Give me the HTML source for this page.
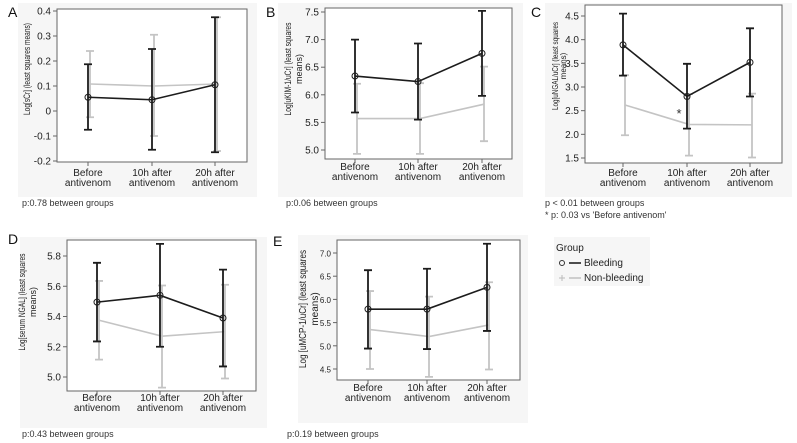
<!DOCTYPE html>
<html><head><meta charset="utf-8"><style>
body{margin:0;background:#fff;width:797px;height:443px;overflow:hidden;font-family:"Liberation Sans",sans-serif}
svg{display:block}
</style></head><body>
<svg id="s" width="797" height="443" xmlns="http://www.w3.org/2000/svg"></svg>
<script>
const categories = [["Before","antivenom"],["10h after","antivenom"],["20h after","antivenom"]];
// Panel A
const aBleed=[0.055,0.045,0.105], aBleedLo=[-0.075,-0.155,-0.165], aBleedHi=[0.187,0.248,0.375];
const aNon=[0.108,0.10,0.108], aNonLo=[-0.025,-0.1,-0.16], aNonHi=[0.24,0.305,0.375];
const aTicks=[0.4,0.3,0.2,0.1,0,-0.1,-0.2], aTickLabels=["0.4","0.3","0.2","0.1","0","-0.1","-0.2"];
// Panel B
const bBleed=[6.34,6.24,6.75], bBleedLo=[5.68,5.55,5.98], bBleedHi=[7.0,6.93,7.52];
const bNon=[5.57,5.57,5.83], bNonLo=[4.93,4.93,5.16], bNonHi=[6.2,6.21,6.51];
const bTicks=[5.0,5.5,6.0,6.5,7.0,7.5], bTickLabels=["5.0","5.5","6.0","6.5","7.0","7.5"];
// Panel C
const cBleed=[3.89,2.8,3.52], cBleedLo=[3.24,2.12,2.8], cBleedHi=[4.55,3.49,4.24];
const cNon=[2.62,2.21,2.2], cNonLo=[1.98,1.55,1.51], cNonHi=[3.25,2.85,2.86];
const cTicks=[1.5,2.0,2.5,3.0,3.5,4.0,4.5], cTickLabels=["1.5","2.0","2.5","3.0","3.5","4.0","4.5"];
// Panel D
const dBleed=[5.495,5.54,5.39], dBleedLo=[5.235,5.2,5.07], dBleedHi=[5.755,5.88,5.71];
const dNon=[5.375,5.27,5.30], dNonLo=[5.115,4.93,4.99], dNonHi=[5.635,5.605,5.61];
const dTicks=[5.0,5.2,5.4,5.6,5.8], dTickLabels=["5.0","5.2","5.4","5.6","5.8"];
// Panel E
const eBleed=[5.79,5.79,6.26], eBleedLo=[4.94,4.93,5.32], eBleedHi=[6.63,6.66,7.2];
const eNon=[5.35,5.2,5.45], eNonLo=[4.5,4.33,4.49], eNonHi=[6.18,6.06,6.37];
const eTicks=[4.5,5.0,5.5,6.0,6.5,7.0], eTickLabels=["4.5","5.0","5.5","6.0","6.5","7.0"];

const S=document.getElementById('s'), NS="http://www.w3.org/2000/svg";
function el(tag,attrs,parent,text){const e=document.createElementNS(NS,tag);for(const k in attrs)e.setAttribute(k,attrs[k]);if(text!==undefined)e.textContent=text;(parent||S).appendChild(e);return e;}

function panel(o){
  const g=el('g',{});
  
  
  const bg=el('rect',{x:o.bg[0],y:o.bg[1],width:o.bg[2]-o.bg[0],height:o.bg[3]-o.bg[1],fill:'#f6f6f6'},g);
  
  const L=el('text',{x:o.lx,y:o.ly,'font-size':14,fill:'#111'},g,o.letter);
  
  const [x0,y0,x1,y1]=o.box;
  const fr=el('rect',{x:x0,y:y0,width:x1-x0,height:y1-y0,fill:'#fff',stroke:'#666','stroke-width':1},g);
  
  const [v0,p0,v1,p1]=o.ymap;
  const Y=v=>p0+(v-v0)*(p1-p0)/(v1-v0);
  const X=i=>o.cx[i];
  o.ticks.forEach((t,i)=>{
    el('line',{x1:x0-4,x2:x0,y1:Y(t),y2:Y(t),stroke:'#666'},g);
    const tl=el('text',{x:x0-6,y:Y(t)+3.5,'font-size':o.tfs||10,'text-anchor':'end',fill:'#222'},g,o.labels[i]);
    
  });
  categories.forEach((c,i)=>{
    el('line',{x1:X(i),x2:X(i),y1:y1,y2:y1+4,stroke:'#666'},g);
    c.forEach((s,j)=>{const t=el('text',{x:X(i),y:o.xly+j*10,'font-size':10,'text-anchor':'middle',fill:'#222'},g,s);
      });
  });
  const ty=o.ty;
  o.title.forEach((s,j)=>{const a={x:0,y:0,'font-size':o.titfs||9,'text-anchor':'middle',fill:'#222',transform:`translate(${o.tx[j]+3},${ty}) rotate(-90)`};
    if(j===0){a.textLength=o.tlen;a.lengthAdjust='spacingAndGlyphs';}
    const t=el('text',a,g,s);
    });
  function series(m,lo,hi,col,off,name,mark){
    for(let i=0;i<3;i++){
      const x=X(i)+off;
      const e=el('path',{d:`M${x},${Y(lo[i])}V${Y(hi[i])}M${x-4},${Y(lo[i])}H${x+4}M${x-4},${Y(hi[i])}H${x+4}`,stroke:col,'stroke-width':1.8,fill:'none'},g);
      
    }
    const ln=el('polyline',{points:m.map((v,i)=>`${X(i)+off},${Y(v)}`).join(' '),stroke:col,'stroke-width':1.6,fill:'none'},g);
    
    if(mark)m.forEach((v,i)=>{const c=el('circle',{cx:X(i),cy:Y(v),r:3,fill:'none',stroke:col,'stroke-width':1},g);
      });
  }
  series(o.non,o.nonLo,o.nonHi,'#c4c4c4',2,'non-bleeding',false);
  series(o.b,o.bLo,o.bHi,'#1c1c1c',0,'bleeding',true);
  o.notes.forEach((s,j)=>{const t=el('text',{x:o.nx,y:o.ny+j*12,'font-size':9,fill:'#333'},g,s);
    });
  return {g,X,Y};
}

panel({letter:'A',lx:8,ly:17,bg:[18,3,257,197],box:[57,9,247,162],ymap:[0.4,11,-0.2,161],cx:[88,152,215],
  ticks:aTicks,labels:aTickLabels,xly:176,tx:[27],ty:69,tlen:92,title:['Log[sCr] (least squares means)'],
  b:aBleed,bLo:aBleedLo,bHi:aBleedHi,non:aNon,nonLo:aNonLo,nonHi:aNonHi,notes:['p:0.78 between groups'],nx:22,ny:206});
panel({letter:'B',lx:266,ly:17,bg:[278,3,523,197],box:[325,8,512,159],ymap:[7.5,12,5.0,150],cx:[355,418,482],
  ticks:bTicks,labels:bTickLabels,xly:170,tx:[288,299],ty:69,tlen:93,title:['Log[uKIM-1/uCr] (least squares','means)'],
  b:bBleed,bLo:bBleedLo,bHi:bBleedHi,non:bNon,nonLo:bNonLo,nonHi:bNonHi,notes:['p:0.06 between groups'],nx:286,ny:206});
panel({letter:'C',lx:531,ly:17,bg:[545,3,792,197],box:[585,5,782,163],ymap:[4.5,16,1.5,158],cx:[623,687,750],
  ticks:cTicks,labels:cTickLabels,xly:176,tx:[555,563],ty:66,tlen:88,titfs:8,title:['Log[uNGAL/uCr] (least squares','means)'],
  b:cBleed,bLo:cBleedLo,bHi:cBleedHi,non:cNon,nonLo:cNonLo,nonHi:cNonHi,notes:['p < 0.01 between groups',"* p: 0.03 vs 'Before antivenom'"],nx:545,ny:206});
panel({letter:'D',lx:8,ly:244,bg:[20,237,267,428],box:[67,240,256,391],ymap:[5.8,256,5.0,377],cx:[97,160,223],
  ticks:dTicks,labels:dTickLabels,xly:401,tx:[22,33],ty:302,tlen:97,title:['Log[serum NGAL] (least squares','means)'],
  b:dBleed,bLo:dBleedLo,bHi:dBleedHi,non:dNon,nonLo:dNonLo,nonHi:dNonHi,notes:['p:0.43 between groups'],nx:22,ny:437});
panel({letter:'E',lx:273,ly:246,bg:[298,235,528,423],box:[337,240,520,380],ymap:[7.0,253,4.5,369],cx:[368,427,487],tfs:8,
  ticks:eTicks,labels:eTickLabels,xly:391,tx:[303,315],ty:309,tlen:118,titfs:10,title:['Log [uMCP-1/uCr] (least squares','means)'],
  b:eBleed,bLo:eBleedLo,bHi:eBleedHi,non:eNon,nonLo:eNonLo,nonHi:eNonHi,notes:['p:0.19 between groups'],nx:287,ny:437});

// star annotation in C
const st=el('text',{x:679,y:118,'font-size':13,'text-anchor':'middle',fill:'#333'},S,'*');



// legend
const lg=el('g',{});


el('rect',{x:554,y:237,width:96,height:49,fill:'#f6f6f6'},lg);
el('text',{x:556,y:251,'font-size':10,fill:'#222'},lg,'Group');
const e1=el('g',{},lg);


el('circle',{cx:562,cy:263,r:2.5,fill:'none',stroke:'#333'},e1);
el('line',{x1:569,x2:581,y1:263,y2:263,stroke:'#222','stroke-width':1.6},e1);
el('text',{x:584,y:266,'font-size':10,fill:'#222'},e1,'Bleeding');
const e2=el('g',{},lg);


el('path',{d:'M559,278H565M562,275V281',stroke:'#bbb'},e2);
el('line',{x1:569,x2:581,y1:278,y2:278,stroke:'#c4c4c4','stroke-width':1.6},e2);
el('text',{x:584,y:281,'font-size':10,fill:'#222'},e2,'Non-bleeding');
</script>
</body></html>
